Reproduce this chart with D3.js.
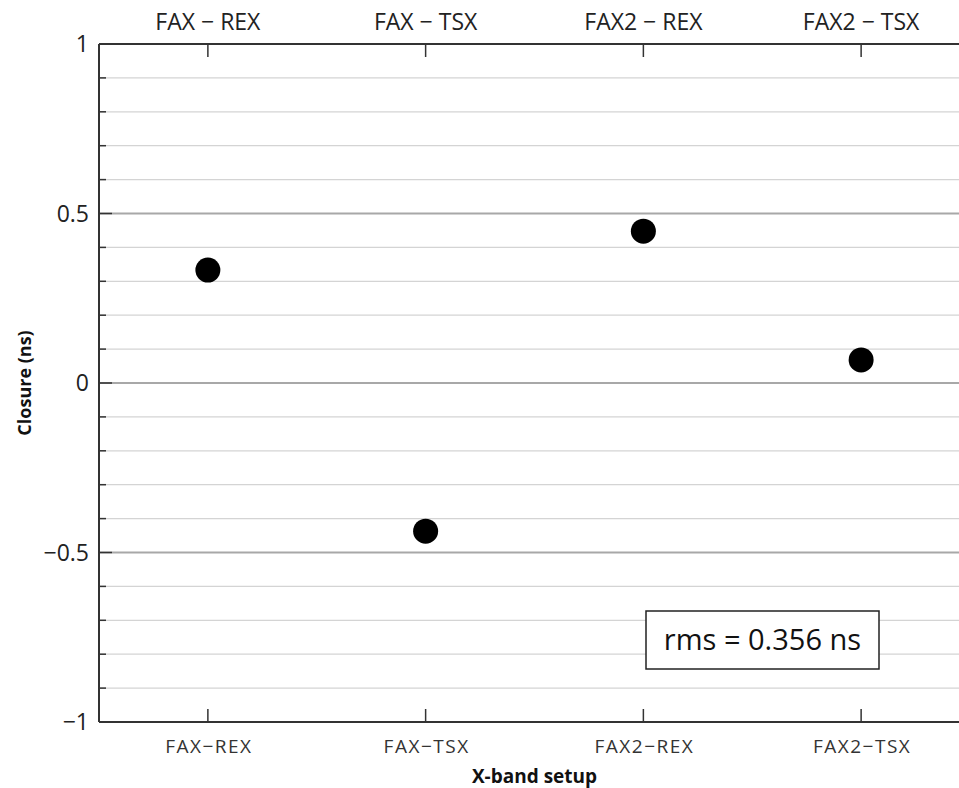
<!DOCTYPE html>
<html><head><meta charset="utf-8">
<script src="https://cdn.jsdelivr.net/npm/d3@7"></script>
<style>body{margin:0;background:#fff}svg{display:block}text{font-family:"Open Sans","DejaVu Sans",sans-serif}</style>
</head><body><svg id="c" width="959" height="788"></svg>
<script>
const categories = ["FAX−REX","FAX−TSX","FAX2−REX","FAX2−TSX"];
const topLabels = ["FAX − REX","FAX − TSX","FAX2 − REX","FAX2 − TSX"];
const closure = [0.333, -0.437, 0.448, 0.068];
const yTicks = [-1, -0.5, 0, 0.5, 1];
const yTickLabels = ["−1","−0.5","0","0.5","1"];
const rmsText = "rms = 0.356 ns";

const svg = d3.select("#c");
const L = 99, R = 970, T = 44, B = 722;
const x = d3.scaleLinear().domain([0.5, 4.5]).range([L, R]);
const y = d3.scaleLinear().domain([-1, 1]).range([B, T]);

const minor = d3.range(-10, 11).map(d => d / 10);
const isMajor = d => Math.abs(Math.round(d*10)) % 5 === 0;
// gridlines
svg.append("g").selectAll("line").data(minor).join("line")
  .attr("x1", L).attr("x2", R)
  .attr("y1", d => y(d)).attr("y2", d => y(d))
  .attr("stroke", d => isMajor(d) ? "#a8a8a8" : "#d4d4d4")
  .attr("stroke-width", d => isMajor(d) ? 2 : 1.2);

// left ticks
svg.append("g").selectAll("line").data(minor).join("line")
  .attr("x1", L).attr("x2", d => L + (isMajor(d) ? 13 : 7))
  .attr("y1", d => y(d)).attr("y2", d => y(d))
  .attr("stroke", "#333").attr("stroke-width", 1.5);

// axes frame
svg.append("line").attr("x1", L).attr("x2", L).attr("y1", T).attr("y2", B).attr("stroke", "#333").attr("stroke-width", 2);
svg.append("line").attr("x1", L).attr("x2", R).attr("y1", T).attr("y2", T).attr("stroke", "#333").attr("stroke-width", 2);
svg.append("line").attr("x1", L).attr("x2", R).attr("y1", B).attr("y2", B).attr("stroke", "#333").attr("stroke-width", 2);

const idx = categories.map((c, i) => i + 1);
svg.append("g").selectAll("line").data(idx).join("line")
  .attr("x1", d => x(d)).attr("x2", d => x(d)).attr("y1", B).attr("y2", B - 13)
  .attr("stroke", "#333").attr("stroke-width", 1.5);
svg.append("g").selectAll("line").data(idx).join("line")
  .attr("x1", d => x(d)).attr("x2", d => x(d)).attr("y1", T).attr("y2", T + 13)
  .attr("stroke", "#333").attr("stroke-width", 1.5);

// y tick labels
svg.append("g").selectAll("text").data(yTicks).join("text")
  .attr("x", L - 10).attr("y", d => y(d)).attr("dy", "0.35em")
  .attr("text-anchor", "end").attr("font-size", 23).attr("fill", "#222")
  .text((d, i) => yTickLabels[i]);

// bottom labels
svg.append("g").selectAll("text").data(categories).join("text")
  .attr("x", (d, i) => x(i + 1) + 1).attr("y", 753)
  .attr("text-anchor", "middle").attr("font-size", 19).attr("letter-spacing", 1.5).attr("fill", "#333")
  .text(d => d);

// top labels
svg.append("g").selectAll("text").data(topLabels).join("text")
  .attr("x", (d, i) => x(i + 1)).attr("y", 30)
  .attr("text-anchor", "middle").attr("font-size", 23).attr("fill", "#222")
  .text(d => d);

// axis titles
svg.append("text").attr("x", x(2.5)).attr("y", 783).attr("text-anchor", "middle")
  .attr("font-size", 19).attr("font-weight", "bold").attr("fill", "#111").text("X-band setup");
svg.append("text").attr("transform", `translate(31,${y(0)}) rotate(-90)`).attr("text-anchor", "middle")
  .attr("font-size", 18).attr("font-weight", "bold").attr("fill", "#111").text("Closure (ns)");

// points
svg.append("g").selectAll("circle").data(closure).join("circle")
  .attr("cx", (d, i) => x(i + 1)).attr("cy", d => y(d)).attr("r", 12.5).attr("fill", "#000");

// rms box
const bx = 646, by = 611, bw = 233, bh = 58;
svg.append("rect").attr("x", bx).attr("y", by).attr("width", bw).attr("height", bh)
  .attr("fill", "#fff").attr("stroke", "#222").attr("stroke-width", 1.5);
svg.append("text").attr("x", bx + bw / 2).attr("y", by + bh / 2).attr("dy", "0.36em")
  .attr("text-anchor", "middle").attr("font-size", 29).attr("fill", "#111").text(rmsText);
</script></body></html>
